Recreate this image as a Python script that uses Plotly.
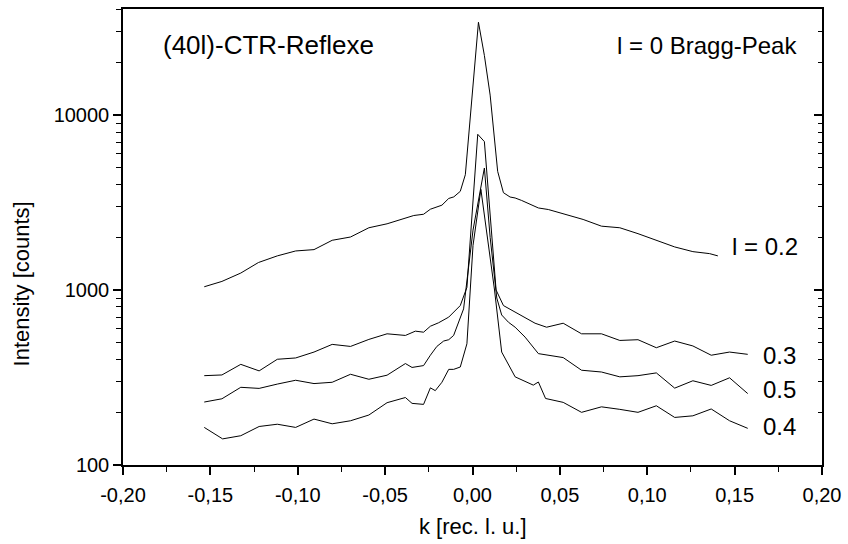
import plotly.graph_objects as go

# Transverse scans through the (4 0 l) crystal truncation rod, intensity vs. k
k_l02 = [-0.1535, -0.1434, -0.1326, -0.1225, -0.1117, -0.1012, -0.0907, -0.0803, -0.0698,
         -0.0593, -0.0489, -0.0384, -0.0336, -0.0280, -0.0241, -0.0175, -0.0136, -0.0107,
         -0.0070, -0.0041, -0.0004, 0.0034, 0.0068, 0.0101, 0.0144, 0.0177, 0.0215, 0.0244,
         0.0281, 0.0377, 0.0434, 0.0529, 0.0633, 0.0738, 0.0843, 0.0947, 0.1052, 0.1157,
         0.1261, 0.1357, 0.1404]
i_l02 = [1044, 1120, 1250, 1436, 1567, 1672, 1702, 1924, 2009,
         2269, 2390, 2564, 2666, 2710, 2896, 3054, 3337, 3406,
         3664, 4560, 11900, 33900, 21900, 13000, 4766, 3600, 3400, 3358,
         3250, 2944, 2884, 2704, 2531, 2317, 2269, 2099, 1924, 1763,
         1657, 1614, 1567]

k_l03 = [-0.1535, -0.1434, -0.1326, -0.1221, -0.1117, -0.1012, -0.0907, -0.0803, -0.0698,
         -0.0593, -0.0489, -0.0384, -0.0327, -0.0280, -0.0241, -0.0194, -0.0136, -0.0070,
         -0.0032, 0.0030, 0.0068, 0.0135, 0.0177, 0.0244, 0.0358, 0.0424, 0.0519, 0.0624,
         0.0738, 0.0843, 0.0947, 0.1052, 0.1157, 0.1261, 0.1366, 0.1471, 0.1575]
i_l03 = [324, 327, 376, 345, 402, 409, 442, 489, 476,
         522, 562, 550, 582, 574, 621, 650, 700, 815,
         1035, 7760, 7050, 1000, 815, 746, 646, 613, 646, 562,
         562, 515, 520, 468, 511, 479, 424, 442, 429]

k_l05 = [-0.1535, -0.1434, -0.1326, -0.1221, -0.1117, -0.1012, -0.0907, -0.0803, -0.0698,
         -0.0593, -0.0489, -0.0384, -0.0346, -0.0280, -0.0241, -0.0204, -0.0165, -0.0136,
         -0.0108, -0.0051, 0.0003, 0.0068, 0.0101, 0.0139, 0.0167, 0.0206, 0.0244, 0.0301,
         0.0377, 0.0519, 0.0624, 0.0738, 0.0843, 0.0947, 0.1052, 0.1157, 0.1261, 0.1366,
         0.1471, 0.1575]
i_l05 = [229, 239, 278, 274, 290, 305, 292, 297, 330,
         309, 326, 380, 361, 370, 424, 476, 511, 520,
         550, 780, 2200, 4980, 2000, 900, 720, 654, 613, 538,
         433, 411, 348, 340, 319, 324, 336, 275, 303, 285,
         315, 256]

k_l04 = [-0.1535, -0.1430, -0.1326, -0.1221, -0.1117, -0.1012, -0.0907, -0.0803, -0.0698,
         -0.0593, -0.0489, -0.0384, -0.0346, -0.0280, -0.0241, -0.0213, -0.0175, -0.0136,
         -0.0108, -0.0070, -0.0032, 0.0003, 0.0048, 0.0101, 0.0126, 0.0167, 0.0244, 0.0348,
         0.0377, 0.0418, 0.0519, 0.0624, 0.0738, 0.0843, 0.0947, 0.1052, 0.1157, 0.1261,
         0.1366, 0.1471, 0.1575]
i_l04 = [164, 141, 147, 166, 171, 164, 183, 172, 179,
         193, 227, 243, 225, 222, 276, 266, 297, 352,
         352, 363, 493, 1800, 3760, 1500, 1000, 442, 319, 286,
         298, 240, 228, 200, 215, 208, 200, 218, 187, 191,
         209, 179, 162]

x_tickvals = [-0.20, -0.15, -0.10, -0.05, 0.00, 0.05, 0.10, 0.15, 0.20]
x_ticktext = ["-0,20", "-0,15", "-0,10", "-0,05", "0,00", "0,05", "0,10", "0,15", "0,20"]
y_tickvals = [100, 1000, 10000]
y_ticktext = ["100", "1000", "10000"]
y_minor = [m * d for d in (100, 1000, 10000) for m in range(2, 10)]

FONT = "Liberation Sans, Arial, sans-serif"
Y_RANGE = [2.0, 4.606]

fig = go.Figure()
for kk, ii in [(k_l02, i_l02), (k_l03, i_l03), (k_l05, i_l05), (k_l04, i_l04)]:
    fig.add_trace(go.Scatter(x=kk, y=ii, mode="lines",
                             line=dict(color="black", width=1), showlegend=False))

fig.update_layout(
    width=848, height=544,
    margin=dict(l=123, r=24, t=7, b=79),
    paper_bgcolor="white", plot_bgcolor="white",
    font=dict(family=FONT, color="black"),
    xaxis=dict(
        range=[-0.2, 0.2], showline=True, linecolor="black", linewidth=1.5,
        mirror=True, showgrid=False, zeroline=False,
        ticks="outside", ticklen=8, tickwidth=1.5, tickcolor="black",
        tickmode="array", tickvals=x_tickvals, ticktext=x_ticktext,
        tickfont=dict(size=20, family=FONT), ticklabelstandoff=3,
        minor=dict(ticks="outside", ticklen=5, tickwidth=1, tickcolor="black",
                   dtick=0.025, tick0=-0.2, showgrid=False),
    ),
    yaxis=dict(
        type="log", range=Y_RANGE, showline=True, linecolor="black", linewidth=1.5,
        showgrid=False, zeroline=False,
        ticks="outside", ticklen=8, tickwidth=1.5, tickcolor="black",
        tickmode="array", tickvals=y_tickvals, ticktext=y_ticktext,
        tickfont=dict(size=20, family=FONT),
        minor=dict(ticks="outside", ticklen=5, tickwidth=1, tickcolor="black",
                   tickmode="array", tickvals=y_minor, showgrid=False),
    ),
    yaxis2=dict(
        type="log", range=Y_RANGE, overlaying="y", side="right",
        showline=True, linecolor="black", linewidth=1.5,
        showgrid=False, zeroline=False, showticklabels=False,
        ticks="inside", ticklen=8, tickwidth=1.5, tickcolor="black",
        tickmode="array", tickvals=y_tickvals,
        minor=dict(ticks="inside", ticklen=4, tickwidth=1, tickcolor="black",
                   tickmode="array", tickvals=y_minor, showgrid=False),
    ),
)

# invisible trace so the right-hand axis is drawn
fig.add_trace(go.Scatter(x=[None], y=[None], yaxis="y2", showlegend=False, hoverinfo="skip"))

labels = [
    ("(40l)-CTR-Reflexe", 0.055, 0.920, "left", 26),
    ("l = 0 Bragg-Peak", 0.967, 0.920, "right", 24),
    ("l = 0.2", 0.968, 0.480, "right", 24),
    ("0.3", 0.966, 0.2405, "right", 24),
    ("0.5", 0.966, 0.1664, "right", 24),
    ("0.4", 0.966, 0.0835, "right", 24),
]
for text, x, y, anchor, size in labels:
    fig.add_annotation(text=text, x=x, y=y, xref="paper", yref="paper",
                       xanchor=anchor, yanchor="middle", showarrow=False,
                       font=dict(size=size, family=FONT, color="black"))

fig.add_annotation(text="Intensity [counts]", x=-0.145, y=0.3975, xref="paper", yref="paper",
                   textangle=-90, xanchor="center", yanchor="middle", showarrow=False,
                   font=dict(size=22, family=FONT, color="black"))
fig.add_annotation(text="k [rec. l. u.]", x=0.5, y=-0.134, xref="paper", yref="paper",
                   xanchor="center", yanchor="middle", showarrow=False,
                   font=dict(size=22, family=FONT, color="black"))

fig.write_html("out.html")
